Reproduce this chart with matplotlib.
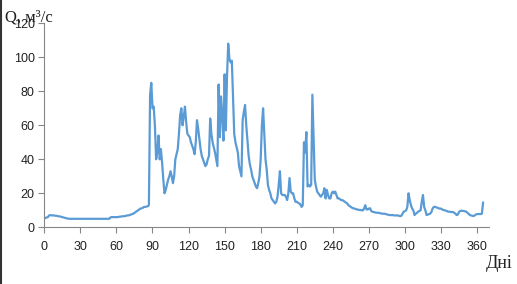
import matplotlib
matplotlib.use("Agg")
import matplotlib.pyplot as plt
from matplotlib.lines import Line2D

days = list(range(0, 366))
discharge = [
    5.5, 5.5, 5.8, 6, 7, 7.2, 7, 7, 7, 6.8,
    6.8, 6.6, 6.5, 6.4, 6.2, 6, 5.8, 5.6, 5.4, 5.2,
    5.1, 5, 5, 5, 5, 5, 5, 5, 5, 5,
    5, 5, 5, 5, 5, 5, 5, 5, 5, 5,
    5, 5, 5, 5, 5, 5, 5, 5, 5, 5,
    5, 5, 5, 5, 5, 5.8, 6, 6, 6, 6,
    6, 6, 6.2, 6.2, 6.4, 6.5, 6.5, 6.6, 6.8, 7,
    7, 7.2, 7.5, 7.8, 8, 8.5, 9, 9.5, 10, 10.5,
    11, 11.2, 11.5, 12, 12, 12.2, 12.4, 13, 78, 85,
    70, 71, 60, 40, 44, 54, 40, 46, 38, 28,
    20, 22, 25, 28, 30, 33, 30, 26, 30, 40,
    43, 46, 55, 66, 70, 60, 65, 71, 62, 55,
    54, 53, 50, 48, 46, 43, 50, 63, 58, 52,
    46, 42, 40, 38, 36, 37, 40, 42, 64, 55,
    50, 47, 44, 40, 36, 84, 53, 77, 66, 51,
    90, 57, 89, 108, 99, 97, 98, 77, 55, 50,
    47, 44, 36, 33, 30, 63, 68, 72, 60, 51,
    42, 37, 34, 30, 28, 26, 24, 23, 26, 30,
    40, 60, 70, 55, 40, 34, 25, 22, 20, 17,
    16, 15, 14, 15, 18, 25, 33, 20, 19, 19,
    19, 18, 16, 20, 29, 21, 20, 20, 17, 15,
    15, 14.5, 14, 13.5, 12, 13, 50, 44, 56, 24,
    25, 24, 25, 78, 53, 28, 24, 21, 20, 19,
    18, 19, 20, 23, 17, 22, 19, 17, 17, 20,
    21, 20, 21, 19, 17, 17, 16.5, 16, 16, 15.5,
    15, 14.5, 14, 13, 12.5, 12, 11.5, 11.2, 11, 10.8,
    10.5, 10.4, 10.2, 10.2, 10, 10, 11, 13, 10.5, 10.5,
    11, 11.2, 9.5, 9.2, 9, 8.8, 8.6, 8.6, 8.5, 8.4,
    8.2, 8.0, 8, 8, 7.8, 7.6, 7.4, 7.2, 7.2, 7.2,
    7.2, 7, 7, 7, 7, 6.8, 6.5, 6.8, 8, 9.2,
    9.5, 10, 12, 20, 16, 13, 11, 10, 7.2, 8,
    8.5, 9.2, 9.6, 10, 15, 19, 12, 10, 7.2, 7.5,
    7.8, 8, 9, 11, 12, 12, 11.8, 11.5, 11.2, 11,
    11, 10.5, 10.2, 10, 9.8, 9.5, 9.2, 9.2, 9, 9,
    9, 8.5, 8, 7.2, 7.5, 9, 9.6, 9.8, 9.6, 9.6,
    9.4, 9.2, 8.5, 8, 7.2, 7, 6.8, 6.6, 7, 7.5,
    7.8, 7.8, 7.8, 7.8, 8, 14.5,
]
x_ticks = list(range(0, 361, 30))
y_ticks = list(range(0, 121, 20))
y_label = "Q, м³/с"
x_label = "Дні"

fig = plt.figure(figsize=(5.17, 2.84), dpi=100)
ax = fig.add_axes([0.0857, 0.1996, 0.8603, 0.7184])
ax.plot(days, discharge, color="#5B9BD5", linewidth=1.6)
ax.set_xlim(0, 370)
ax.set_ylim(0, 120)
ax.set_xticks(x_ticks)
ax.set_yticks(y_ticks)
for s in ("top", "right"):
    ax.spines[s].set_visible(False)
for s in ("left", "bottom"):
    ax.spines[s].set_color("#868686")
    ax.spines[s].set_linewidth(0.8)
ax.tick_params(axis="both", direction="out", length=4, width=0.8, color="#868686",
               labelsize=9, labelcolor="#222222", pad=3)
for lab in ax.get_xticklabels() + ax.get_yticklabels():
    lab.set_family("Liberation Sans")
ax.tick_params(axis="x", pad=6)

fig.text(5 / 517, 1 - 18 / 284, y_label, family="Liberation Serif", fontsize=12,
         ha="left", va="center", color="#222222")
fig.text(513 / 517, 1 - 264 / 284, x_label, family="Liberation Serif", fontsize=13,
         ha="right", va="center", color="#222222")

fig.add_artist(Line2D([0.002, 0.002], [0, 1], transform=fig.transFigure,
                      color="#333333", linewidth=1.5))

fig.savefig("out.png", dpi=100)
